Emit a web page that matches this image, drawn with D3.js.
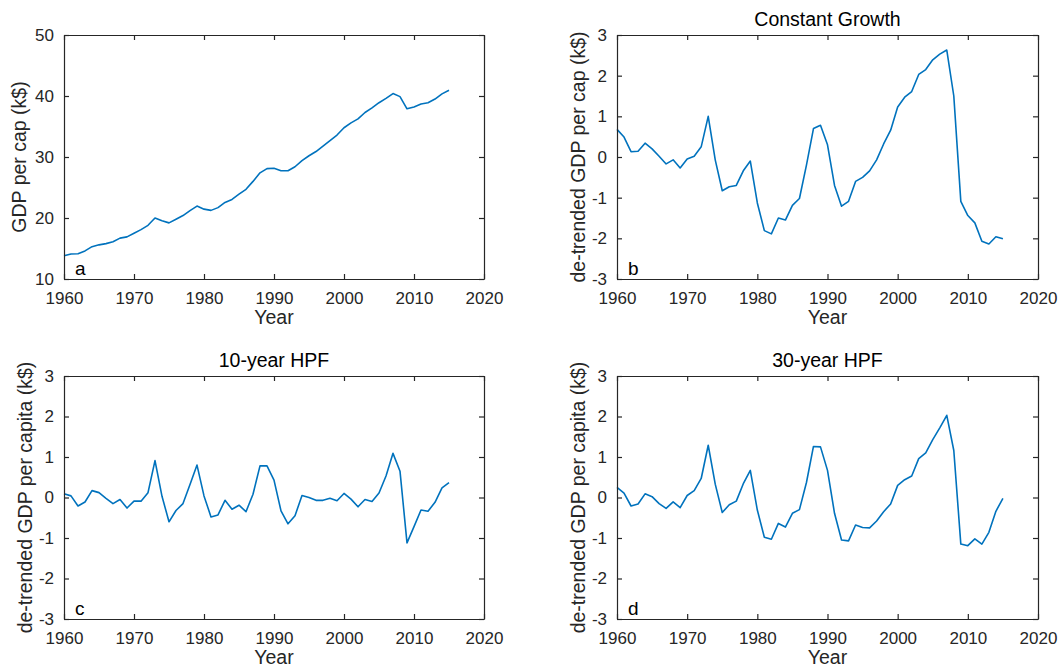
<!DOCTYPE html>
<html>
<head>
<meta charset="utf-8">
<script src="https://cdn.jsdelivr.net/npm/d3@7"></script>
<style>
  html, body { margin: 0; padding: 0; background: #fff; }
  svg { display: block; font-family: "Liberation Sans", Arial, Helvetica, sans-serif; }
  .tick-label { font-size: 17px; fill: #262626; }
  .axis-label { font-size: 19.5px; fill: #262626; }
  .panel-title { font-size: 19.5px; fill: #000; }
  .panel-letter { font-size: 19px; fill: #000; }
</style>
</head>
<body>
<svg id="chart" width="1060" height="668"></svg>
<script>
// Annual series, 1960–2015
const years = d3.range(1960, 2016);

// GDP per capita, k$
const gdpPerCap = [
  13.8, 14.1, 14.15, 14.6, 15.3, 15.6, 15.8, 16.1, 16.7, 16.9,
  17.5, 18.1, 18.8, 20.0, 19.55, 19.2, 19.8, 20.4, 21.2, 21.95,
  21.45, 21.25, 21.7, 22.55, 23.05, 23.9, 24.7, 26.0, 27.4, 28.1,
  28.15, 27.75, 27.75, 28.4, 29.4, 30.2, 30.9, 31.8, 32.7, 33.6,
  34.8, 35.6, 36.25, 37.3, 38.05, 38.9, 39.6, 40.4, 39.9, 37.9,
  38.2, 38.7, 38.9, 39.5, 40.35, 40.95
];

// De-trended against a constant growth rate
const constantGrowth = [
  0.68, 0.49, 0.13, 0.14, 0.34, 0.20, 0.02, -0.17, -0.07, -0.27,
  -0.05, 0.02, 0.25, 1.00, -0.07, -0.83, -0.73, -0.70, -0.34, -0.10,
  -1.13, -1.81, -1.89, -1.50, -1.55, -1.19, -1.02, -0.20, 0.70, 0.78,
  0.30, -0.70, -1.21, -1.09, -0.60, -0.50, -0.34, -0.07, 0.32, 0.66,
  1.23, 1.47, 1.61, 2.03, 2.15, 2.39, 2.53, 2.63, 1.50, -1.09,
  -1.44, -1.62, -2.07, -2.14, -1.96, -2.01
];

// De-trended with a 10-year Hodrick–Prescott filter
const hpf10 = [
  0.09, 0.04, -0.21, -0.11, 0.17, 0.12, -0.02, -0.15, -0.05, -0.26,
  -0.09, -0.09, 0.12, 0.91, 0.03, -0.60, -0.32, -0.15, 0.32, 0.80,
  0.04, -0.48, -0.43, -0.07, -0.29, -0.19, -0.35, 0.08, 0.78, 0.78,
  0.43, -0.33, -0.65, -0.45, 0.05, 0.00, -0.07, -0.07, -0.02, -0.08,
  0.10, -0.04, -0.23, -0.05, -0.10, 0.11, 0.53, 1.09, 0.65, -1.12,
  -0.72, -0.31, -0.34, -0.12, 0.24, 0.37
];

// De-trended with a 30-year Hodrick–Prescott filter
const hpf30 = [
  0.25, 0.11, -0.21, -0.16, 0.09, 0.02, -0.15, -0.27, -0.11, -0.25,
  0.05, 0.17, 0.47, 1.29, 0.33, -0.37, -0.18, -0.09, 0.34, 0.67,
  -0.31, -0.98, -1.03, -0.64, -0.73, -0.39, -0.30, 0.37, 1.26, 1.25,
  0.67, -0.39, -1.05, -1.07, -0.68, -0.74, -0.75, -0.58, -0.35, -0.16,
  0.30, 0.44, 0.53, 0.96, 1.10, 1.43, 1.72, 2.03, 1.16, -1.15,
  -1.19, -1.02, -1.15, -0.86, -0.34, -0.02
];

// Axis ticks
const xTicks = [1960, 1970, 1980, 1990, 2000, 2010, 2020];
const yTicksGdp = [10, 20, 30, 40, 50];
const yTicksDev = [-3, -2, -1, 0, 1, 2, 3];

const panels = [
  { values: gdpPerCap, yTicks: yTicksGdp, letter: "a", title: null,
    ylabel: "GDP per cap (k$)",
    box: { x0: 64, x1: 484, y0: 35, y1: 279 }, labelX: 26 },
  { values: constantGrowth, yTicks: yTicksDev, letter: "b", title: "Constant Growth",
    ylabel: "de-trended GDP per cap (k$)",
    box: { x0: 617, x1: 1038, y0: 35, y1: 279 }, labelX: 585 },
  { values: hpf10, yTicks: yTicksDev, letter: "c", title: "10-year HPF",
    ylabel: "de-trended GDP per capita (k$)",
    box: { x0: 64, x1: 484, y0: 376, y1: 619 }, labelX: 32 },
  { values: hpf30, yTicks: yTicksDev, letter: "d", title: "30-year HPF",
    ylabel: "de-trended GDP per capita (k$)",
    box: { x0: 617, x1: 1038, y0: 376, y1: 619 }, labelX: 585 }
];

const svg = d3.select("#chart");
const axisColor = "#262626";
const lineColor = "#0072BD";
const tickLen = 5;
const fmt = d => String(d); // plain hyphen for negatives

panels.forEach(p => {
  const b = p.box;
  const x = d3.scaleLinear().domain([xTicks[0], xTicks[xTicks.length - 1]]).range([b.x0, b.x1]);
  const y = d3.scaleLinear().domain([p.yTicks[0], p.yTicks[p.yTicks.length - 1]]).range([b.y1, b.y0]);

  const g = svg.append("g");

  // data line
  g.append("path")
    .datum(years.map((yr, i) => [yr, p.values[i]]))
    .attr("fill", "none")
    .attr("stroke", lineColor)
    .attr("stroke-width", 1.6)
    .attr("stroke-linejoin", "round")
    .attr("d", d3.line().x(d => x(d[0])).y(d => y(d[1])));

  // inward ticks on all four sides, labels on bottom and left
  const axisBottom = d3.axisBottom(x).tickValues(xTicks).tickSizeInner(-tickLen).tickSizeOuter(0).tickPadding(13).tickFormat(fmt);
  const axisTop = d3.axisTop(x).tickValues(xTicks).tickSizeInner(-tickLen).tickSizeOuter(0).tickFormat("");
  const axisLeft = d3.axisLeft(y).tickValues(p.yTicks).tickSizeInner(-tickLen).tickSizeOuter(0).tickPadding(10).tickFormat(fmt);
  const axisRight = d3.axisRight(y).tickValues(p.yTicks).tickSizeInner(-tickLen).tickSizeOuter(0).tickFormat("");

  const styleAxis = sel => {
    sel.select(".domain").attr("stroke", axisColor).attr("stroke-width", 1.2);
    sel.selectAll(".tick line").attr("stroke", axisColor).attr("stroke-width", 1.2);
    sel.selectAll(".tick text").attr("class", "tick-label").attr("font-size", null).attr("font-family", null).attr("fill", null);
  };

  g.append("g").attr("transform", `translate(0,${b.y1})`).call(axisBottom).call(styleAxis)
    .selectAll(".tick text").attr("dy", "0.71em");
  g.append("g").attr("transform", `translate(0,${b.y0})`).call(axisTop).call(styleAxis);
  g.append("g").attr("transform", `translate(${b.x0},0)`).call(axisLeft).call(styleAxis);
  g.append("g").attr("transform", `translate(${b.x1},0)`).call(axisRight).call(styleAxis);

  // x-axis label
  g.append("text")
    .attr("class", "axis-label")
    .attr("x", (b.x0 + b.x1) / 2)
    .attr("y", b.y1 + 45)
    .attr("text-anchor", "middle")
    .text("Year");

  // y-axis label
  g.append("text")
    .attr("class", "axis-label")
    .attr("text-anchor", "middle")
    .attr("transform", `translate(${p.labelX},${(b.y0 + b.y1) / 2}) rotate(-90)`)
    .text(p.ylabel);

  // panel title
  if (p.title) {
    g.append("text")
      .attr("class", "panel-title")
      .attr("x", (b.x0 + b.x1) / 2)
      .attr("y", b.y0 - 9)
      .attr("text-anchor", "middle")
      .text(p.title);
  }

  // panel letter
  g.append("text")
    .attr("class", "panel-letter")
    .attr("x", b.x0 + 11)
    .attr("y", b.y1 - 4)
    .text(p.letter);
});
</script>
</body>
</html>
